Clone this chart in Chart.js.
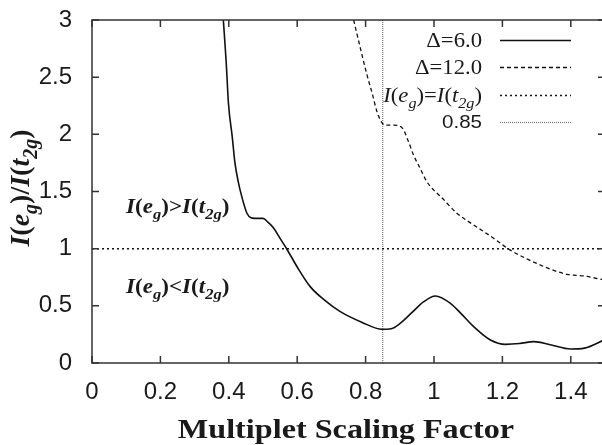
<!DOCTYPE html>
<html>
<head>
<meta charset="utf-8">
<script src="https://cdn.jsdelivr.net/npm/chart.js@4.4.0/dist/chart.umd.min.js"></script>
<style>
html, body { margin: 0; padding: 0; background: #fff; overflow: hidden; }
canvas { display: block; }
</style>
</head>
<body>
<canvas id="c" width="605" height="445"></canvas>
<script>
// Delta = 6.0 (solid)
var delta6X = [0.384, 0.392, 0.399, 0.41, 0.418, 0.428, 0.438, 0.453, 0.465, 0.475, 0.50, 0.515, 0.531, 0.55, 0.570, 0.60, 0.638, 0.68, 0.726, 0.79, 0.848, 0.875, 0.901, 0.935, 0.970, 1.004, 1.048, 1.08, 1.116, 1.165, 1.209, 1.25, 1.292, 1.34, 1.399, 1.44, 1.5];
var delta6Y = [3.0, 2.65, 2.27, 1.98, 1.75, 1.58, 1.455, 1.31, 1.27, 1.265, 1.265, 1.23, 1.18, 1.09, 0.995, 0.84, 0.668, 0.55, 0.449, 0.355, 0.295, 0.30, 0.347, 0.44, 0.536, 0.586, 0.522, 0.43, 0.318, 0.201, 0.163, 0.17, 0.187, 0.16, 0.122, 0.13, 0.205];
// Delta = 12.0 (dashed)
var delta12X = [0.765, 0.785, 0.804, 0.82, 0.833, 0.848, 0.86, 0.882, 0.906, 0.925, 0.940, 0.96, 0.979, 1.0, 1.018, 1.067, 1.116, 1.17, 1.219, 1.265, 1.311, 1.35, 1.389, 1.438, 1.5];
var delta12Y = [3.0, 2.75, 2.52, 2.35, 2.2, 2.1, 2.08, 2.08, 2.06, 1.94, 1.82, 1.70, 1.586, 1.51, 1.46, 1.31, 1.207, 1.10, 0.995, 0.92, 0.857, 0.81, 0.776, 0.761, 0.725];
var equalLevel = 1;      // I(eg)=I(t2g)
var scaleMark = 0.85;
var xTicks = [0, 0.2, 0.4, 0.6, 0.8, 1, 1.2, 1.4];
var yTicks = [0, 0.5, 1, 1.5, 2, 2.5, 3];
var xMin = 0, xMax = 1.5, yMin = 0, yMax = 3;

var SERIF = '"Liberation Serif", "DejaVu Serif", serif';
var SANS = '"Liberation Sans", Arial, sans-serif';
var INK = '#1a1a1a';

function pts(xs, ys) {
	return xs.map(function (x, i) { return {x: x, y: ys[i]}; });
}

function fontFor(r, size) {
	return r[1] + ' ' + (r[2] ? Math.round(size * 0.7) : size) + 'px ' + SERIF;
}
// runs: [text, style, isSubscript]
function drawRich(ctx, runs, x, y, size, align, stretch) {
	ctx.save();
	ctx.textBaseline = 'alphabetic';
	ctx.textAlign = 'left';
	ctx.fillStyle = INK;
	var widths = runs.map(function (r) {
		ctx.font = fontFor(r, size);
		return ctx.measureText(r[0]).width;
	});
	var total = widths.reduce(function (a, b) { return a + b; }, 0);
	ctx.translate(x, y);
	ctx.scale(stretch, 1);
	var cx = align === 'right' ? -total : (align === 'center' ? -total / 2 : 0);
	runs.forEach(function (r, i) {
		ctx.font = fontFor(r, size);
		ctx.fillText(r[0], cx, r[2] ? size * 0.3 : 0);
		cx += widths[i];
	});
	ctx.restore();
}

function ratioRuns(op, st, up) {
	return [['I', st], ['(', up], ['e', st], ['g', st, 1], [')', up], [op, up],
		['I', st], ['(', up], ['t', st], ['2g', st, 1], [')', up]];
}

var legendRows = [
	{runs: [['\u0394=6.0', 'normal']], ds: 0},
	{runs: [['\u0394=12.0', 'normal']], ds: 1},
	{runs: ratioRuns('=', 'italic', 'normal'), ds: 2},
	{sans: '0.85', ds: 3}
];

var decorPlugin = {
	id: 'decor',
	afterDatasetsDraw: function (chart) {
		var ctx = chart.ctx, a = chart.chartArea;
		var xs = chart.scales.x, ys = chart.scales.y;
		ctx.save();
		// frame + inward ticks
		ctx.strokeStyle = '#333';
		ctx.lineWidth = 1.5;
		ctx.setLineDash([]);
		ctx.strokeRect(a.left, a.top, a.right - a.left, a.bottom - a.top);
		ctx.beginPath();
		xs.ticks.forEach(function (t) {
			var px = xs.getPixelForValue(t.value);
			ctx.moveTo(px, a.bottom); ctx.lineTo(px, a.bottom - 7);
			ctx.moveTo(px, a.top); ctx.lineTo(px, a.top + 7);
		});
		ys.ticks.forEach(function (t) {
			var py = ys.getPixelForValue(t.value);
			ctx.moveTo(a.left, py); ctx.lineTo(a.left + 7, py);
			ctx.moveTo(a.right, py); ctx.lineTo(a.right - 7, py);
		});
		ctx.stroke();

		// legend
		legendRows.forEach(function (row, i) {
			var y = 40 + i * 27.3;
			var ds = chart.data.datasets[row.ds];
			if (row.sans) {
				ctx.save();
				ctx.font = '19px ' + SANS;
				ctx.fillStyle = INK;
				ctx.textAlign = 'right';
				ctx.textBaseline = 'middle';
				ctx.translate(482, y + 1);
				ctx.scale(1.08, 1);
				ctx.fillText(row.sans, 0, 0);
				ctx.restore();
			} else {
				drawRich(ctx, row.runs, 482, y + 7, 21, 'right', 1.08);
			}
			ctx.save();
			ctx.strokeStyle = ds.borderColor;
			ctx.lineWidth = ds.borderWidth;
			ctx.setLineDash(ds.borderDash ? ds.borderDash : []);
			ctx.beginPath();
			ctx.moveTo(500, Math.round(y) + 0.5);
			ctx.lineTo(571, Math.round(y) + 0.5);
			ctx.stroke();
			ctx.restore();
		});

		// region notes
		drawRich(ctx, ratioRuns('>', 'italic bold', 'bold'), 126, 213, 21, 'left', 1.1);
		drawRich(ctx, ratioRuns('<', 'italic bold', 'bold'), 126, 293, 21, 'left', 1.1);

		// axis titles
		ctx.save();
		ctx.font = 'bold 28px ' + SERIF;
		ctx.fillStyle = INK;
		ctx.textAlign = 'center';
		ctx.textBaseline = 'alphabetic';
		ctx.translate(346, 438);
		ctx.scale(1.15, 1);
		ctx.fillText('Multiplet Scaling Factor', 0, 0);
		ctx.restore();

		ctx.save();
		ctx.translate(29, 188);
		ctx.rotate(-Math.PI / 2);
		drawRich(ctx, [['I', 'italic bold'], ['(', 'bold'], ['e', 'italic bold'], ['g', 'italic bold', 1], [')', 'bold'],
			['/', 'bold'], ['I', 'italic bold'], ['(', 'bold'], ['t', 'italic bold'], ['2g', 'italic bold', 1], [')', 'bold']],
			0, 0, 28, 'center', 1.0);
		ctx.restore();
		ctx.restore();
	}
};

new Chart(document.getElementById('c'), {
	type: 'scatter',
	data: {
		datasets: [
			{label: 'Delta=6.0', data: pts(delta6X, delta6Y), showLine: true, borderColor: '#111', borderWidth: 1.6,
				borderDash: [], pointRadius: 0, cubicInterpolationMode: 'monotone'},
			{label: 'Delta=12.0', data: pts(delta12X, delta12Y), showLine: true, borderColor: '#111', borderWidth: 1.3,
				borderDash: [4, 3], pointRadius: 0, cubicInterpolationMode: 'monotone'},
			{label: 'I(eg)=I(t2g)', data: [{x: xMin, y: equalLevel}, {x: xMax, y: equalLevel}], showLine: true,
				borderColor: '#111', borderWidth: 1.5, borderDash: [2, 3], pointRadius: 0},
			{label: '0.85', data: [{x: scaleMark, y: yMin}, {x: scaleMark, y: yMax}], showLine: true,
				borderColor: '#777', borderWidth: 1.2, borderDash: [1, 1], pointRadius: 0}
		]
	},
	options: {
		responsive: false,
		animation: false,
		layout: {padding: {top: 20, right: 0, left: 0, bottom: 0}},
		plugins: {legend: {display: false}, tooltip: {enabled: false}},
		scales: {
			x: {
				type: 'linear', min: xMin, max: xMax,
				grid: {display: false, drawTicks: false},
				border: {display: false},
				afterBuildTicks: function (s) { s.ticks = xTicks.map(function (v) { return {value: v}; }); },
				afterFit: function (s) { s.height = 82; s.paddingLeft = 0; s.paddingRight = 0; },
				ticks: {font: {family: SANS, size: 24}, color: INK, padding: 15, maxRotation: 0,
					callback: function (v) { return String(v); }}
			},
			y: {
				type: 'linear', min: yMin, max: yMax,
				grid: {display: false, drawTicks: false},
				border: {display: false},
				afterBuildTicks: function (s) { s.ticks = yTicks.map(function (v) { return {value: v}; }); },
				afterFit: function (s) { s.width = 92; s.paddingTop = 0; s.paddingBottom = 0; },
				ticks: {font: {family: SANS, size: 24}, color: INK, padding: 20,
					callback: function (v) { return String(v); }}
			}
		}
	},
	plugins: [decorPlugin]
});
</script>
</body>
</html>
